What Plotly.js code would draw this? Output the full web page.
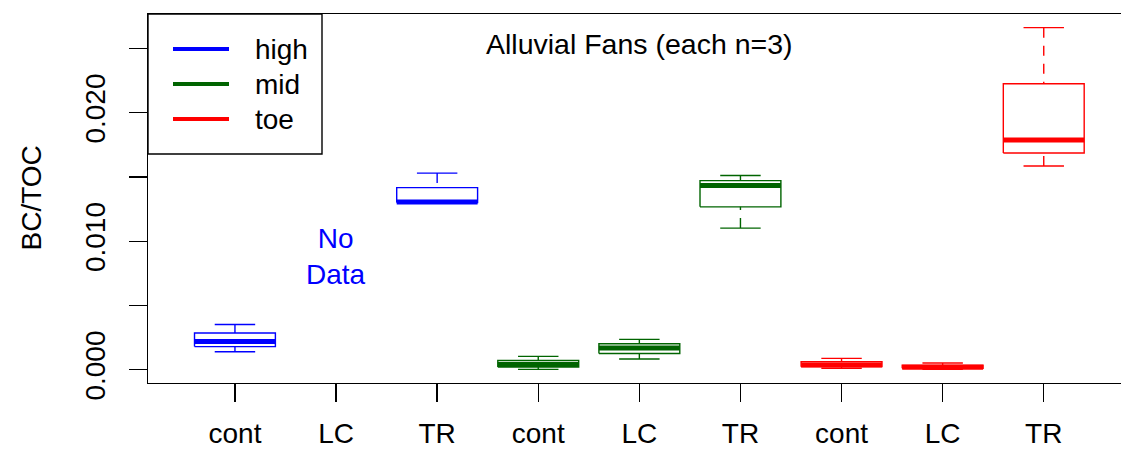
<!DOCTYPE html>
<html>
<head>
<meta charset="utf-8">
<script src="https://cdn.plot.ly/plotly-3.0.1.min.js"></script>
<style>
  html, body { margin: 0; padding: 0; background: #ffffff; }
  #chart { width: 1121px; height: 450px; }
</style>
</head>
<body>
<div id="chart"></div>
<script>
// BC/TOC ratios on alluvial fans, three samples per treatment and fan position
var categories = ['cont', 'LC', 'TR', 'cont', 'LC', 'TR', 'cont', 'LC', 'TR'];
var positions = ['high', 'mid', 'toe'];
var positionColors = ['#0000FF', '#006400', '#FF0000'];

var highCont = [0.0014, 0.0022, 0.00352];
var highLC = [];                       // not sampled
var highTR = [0.01298, 0.01305, 0.0153];

var midCont = [0.00003, 0.0004, 0.00104];
var midLC = [0.00083, 0.00169, 0.00236];
var midTR = [0.01102, 0.01433, 0.01511];

var toeCont = [0.00012, 0.00036, 0.00088];
var toeLC = [0.00003, 0.0002, 0.00052];
var toeTR = [0.01586, 0.01788, 0.02662];

var yTickVals = [0, 0.005, 0.01, 0.015, 0.02, 0.025];
var yTickText = ['0.000', '', '0.010', '', '0.020', ''];

var groups = [
  [highCont, highLC, highTR],
  [midCont, midLC, midTR],
  [toeCont, toeLC, toeTR]
];

// Tukey five-number summary (min, lower hinge, median, upper hinge, max)
function fivenum(v) {
  var s = v.slice().sort(function (a, b) { return a - b; });
  var n = s.length;
  var n4 = Math.floor((n + 3) / 2) / 2;
  var d = [1, n4, (n + 1) / 2, n + 1 - n4, n];
  return d.map(function (k) {
    return 0.5 * (s[Math.floor(k) - 1] + s[Math.ceil(k) - 1]);
  });
}

var boxHalf = 0.4;     // box width 0.8
var stapleHalf = 0.2;  // staple half the box width
var lw = 1.4;

var traces = [];
var allVals = [];

groups.forEach(function (sets, g) {
  var col = positionColors[g];
  var wx = [], wy = [], sx = [], sy = [], bx = [], by = [], mx = [], my = [];
  sets.forEach(function (vals, j) {
    if (!vals.length) return;
    allVals = allVals.concat(vals);
    var x = g * 3 + j + 1;
    var f = fivenum(vals);
    // whiskers run from each extreme back to its hinge
    wx.push(x, x, null, x, x, null);
    wy.push(f[0], f[1], null, f[4], f[3], null);
    // staples
    sx.push(x - stapleHalf, x + stapleHalf, null, x - stapleHalf, x + stapleHalf, null);
    sy.push(f[0], f[0], null, f[4], f[4], null);
    // box outline
    bx.push(x - boxHalf, x + boxHalf, x + boxHalf, x - boxHalf, x - boxHalf, null);
    by.push(f[1], f[1], f[3], f[3], f[1], null);
    // median
    mx.push(x - boxHalf, x + boxHalf, null);
    my.push(f[2], f[2], null);
  });
  var base = { type: 'scatter', mode: 'lines', hoverinfo: 'skip', showlegend: false, name: positions[g] };
  traces.push(Object.assign({}, base, { x: wx, y: wy, line: { color: col, width: lw, dash: '10px,8px' } }));
  traces.push(Object.assign({}, base, { x: sx, y: sy, line: { color: col, width: lw } }));
  traces.push(Object.assign({}, base, { x: bx, y: by, line: { color: col, width: lw } }));
  traces.push(Object.assign({}, base, { x: mx, y: my, line: { color: col, width: 5 } }));
});

var yMin = Math.min.apply(null, allVals);
var yMax = Math.max.apply(null, allVals);
var yPad = 0.04 * (yMax - yMin);

var marginL = 148, width = 1121;
var xLo = 0.14;
var pxPerUnit = 101.1;
var xHi = xLo + (width - marginL) / pxPerUnit;

var font = { family: 'Liberation Sans, Arial, sans-serif', size: 28, color: '#000000' };

// legend drawn as a framed key in the top-left corner
var shapes = [{
  type: 'rect', xref: 'paper', yref: 'paper',
  xsizemode: 'pixel', ysizemode: 'pixel', xanchor: 0, yanchor: 1,
  x0: 0, x1: 174, y0: 0, y1: -140,
  line: { color: '#000000', width: 1.4 }, fillcolor: '#ffffff', layer: 'above'
}];
var annotations = [];
positions.forEach(function (p, i) {
  var yOff = -35 - 35 * i;
  shapes.push({
    type: 'line', xref: 'paper', yref: 'paper',
    xsizemode: 'pixel', ysizemode: 'pixel', xanchor: 0, yanchor: 1,
    x0: 25, x1: 81, y0: yOff, y1: yOff,
    line: { color: positionColors[i], width: 4 }, layer: 'above'
  });
  annotations.push({
    xref: 'paper', yref: 'paper', x: 0, y: 1, xshift: 105, yshift: yOff,
    xanchor: 'left', yanchor: 'middle', showarrow: false, text: p, font: font
  });
});

annotations.push({
  xref: 'x', yref: 'paper', x: 5, y: 0.9195, showarrow: false,
  xanchor: 'center', yanchor: 'middle', text: 'Alluvial Fans (each n=3)',
  font: Object.assign({}, font, { size: 28.5 })
});
annotations.push({
  xref: 'x', yref: 'y', x: 2, y: 0.00883, showarrow: false,
  xanchor: 'center', yanchor: 'middle', text: 'No<br>Data',
  font: Object.assign({}, font, { color: '#0000FF' })
});
annotations.push({
  xref: 'paper', yref: 'paper', x: 0, y: 0.5, xshift: -117, showarrow: false,
  xanchor: 'center', yanchor: 'middle', textangle: -90, text: 'BC/TOC', font: font
});

var layout = {
  width: width, height: 450,
  margin: { l: marginL, r: 0, t: 14, b: 67, pad: 0 },
  paper_bgcolor: '#ffffff', plot_bgcolor: '#ffffff',
  showlegend: false,
  font: font,
  xaxis: {
    range: [xLo, xHi], tickmode: 'array',
    tickvals: categories.map(function (c, i) { return i + 1; }),
    ticktext: categories,
    showgrid: false, zeroline: false,
    showline: true, mirror: true, linecolor: '#000000', linewidth: 1.4,
    ticks: 'outside', ticklen: 18, tickwidth: 1.4, tickcolor: '#000000',
    ticklabelstandoff: 7,
    tickfont: font
  },
  yaxis: {
    range: [yMin - yPad, yMax + yPad], tickmode: 'array',
    tickvals: yTickVals, ticktext: yTickText, tickangle: -90,
    showgrid: false, zeroline: false,
    showline: true, mirror: false, linecolor: '#000000', linewidth: 1.4,
    ticks: 'outside', ticklen: 18, tickwidth: 1.4, tickcolor: '#000000',
    ticklabelstandoff: 12,
    tickfont: font
  },
  shapes: shapes,
  annotations: annotations
};

Plotly.newPlot('chart', traces, layout, { staticPlot: true, displayModeBar: false });
</script>
</body>
</html>
